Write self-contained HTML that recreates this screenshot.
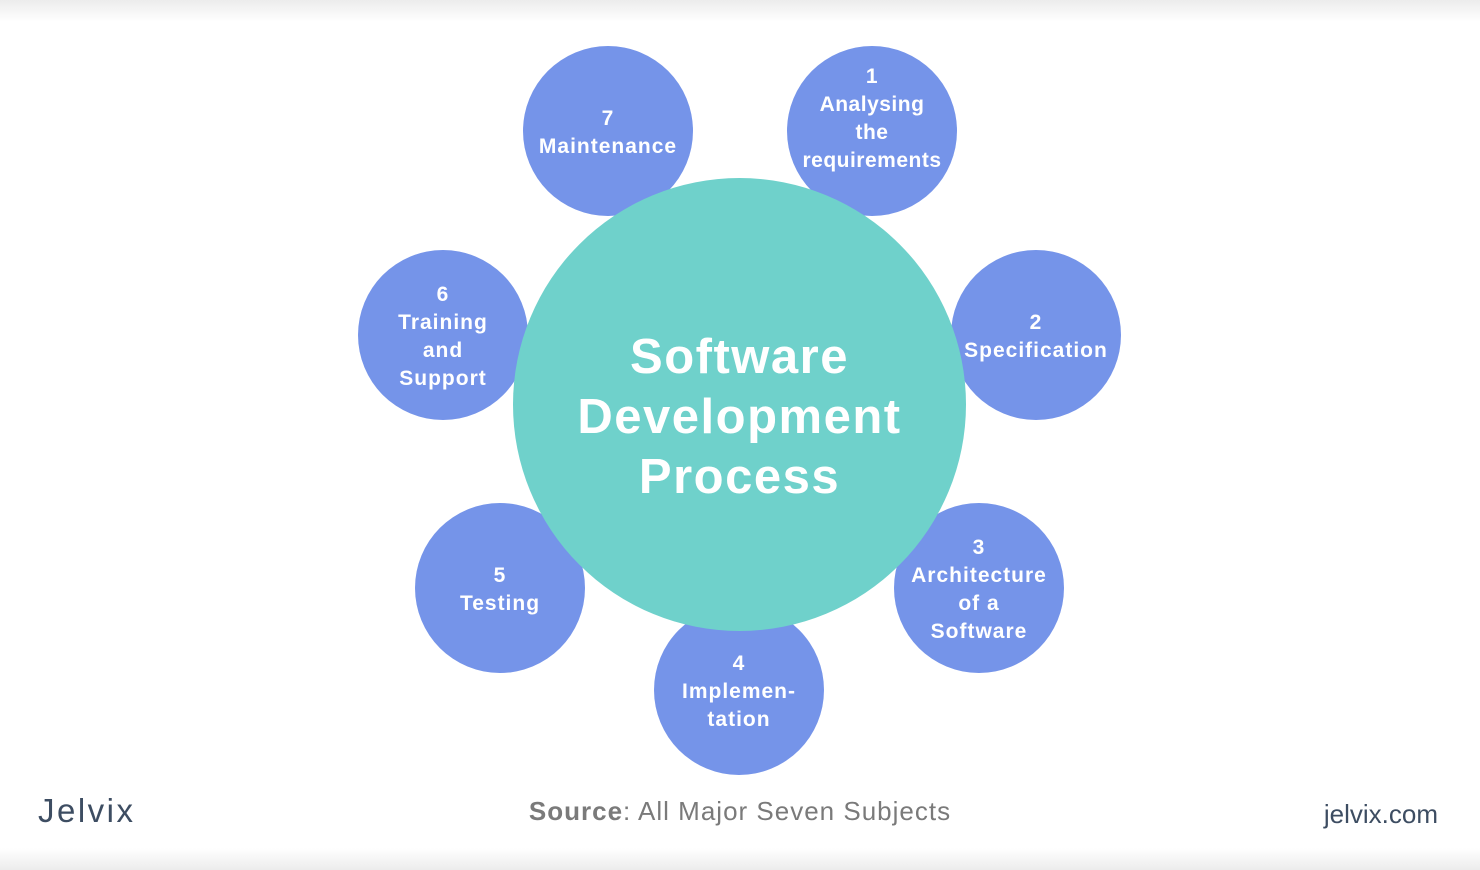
<!DOCTYPE html>
<html><head><meta charset="utf-8"><style>
body{margin:0;width:1480px;height:870px;position:relative;overflow:hidden;background:#fff;font-family:"Liberation Sans",sans-serif}
.sh1{position:absolute;left:0;top:0;width:1480px;height:22px;background:linear-gradient(#ececec,#fff)}
.sh2{position:absolute;left:0;bottom:0;width:1480px;height:22px;background:linear-gradient(#fff,#ececec)}
.c{position:absolute;border-radius:50%;background:#7594e9;width:170px;height:170px;display:flex;align-items:center;justify-content:center;text-align:center;color:#fff;font-weight:bold;font-size:21px;line-height:28px;letter-spacing:1px;padding-top:4px;box-sizing:border-box}
.big{position:absolute;left:513px;top:178px;width:453px;height:453px;border-radius:50%;background:#6fd1cb;display:flex;align-items:center;justify-content:center;text-align:center;color:#fff;font-weight:bold;font-size:49px;line-height:60px;letter-spacing:1.5px;padding-top:24px;box-sizing:border-box}
</style></head><body>
<div class="sh1"></div><div class="sh2"></div>
<div class="c" style="left:523px;top:46px">7<br>Maintenance</div>
<div class="c" style="left:787px;top:46px;letter-spacing:0.5px;padding-top:0;padding-bottom:24px">1<br>Analysing<br>the<br>requirements</div>
<div class="c" style="left:358px;top:250px">6<br>Training<br>and<br>Support</div>
<div class="c" style="left:951px;top:250px">2<br>Specification</div>
<div class="c" style="left:415px;top:503px">5<br>Testing</div>
<div class="c" style="left:894px;top:503px">3<br>Architecture<br>of a<br>Software</div>
<div class="c" style="left:654px;top:605px">4<br>Implemen-<br>tation</div>
<div class="big">Software<br>Development<br>Process</div>
<div style="position:absolute;left:38px;top:792px;font-size:33px;color:#3d4d62;letter-spacing:2.5px">Jelvix</div>
<div style="position:absolute;left:0;width:1480px;top:796px;text-align:center;font-size:26px;color:#7a7a7a;letter-spacing:1px"><b>Source</b>: All Major Seven Subjects</div>
<div style="position:absolute;right:42px;top:799px;font-size:26px;color:#3d4d62">jelvix.com</div>
</body></html>
